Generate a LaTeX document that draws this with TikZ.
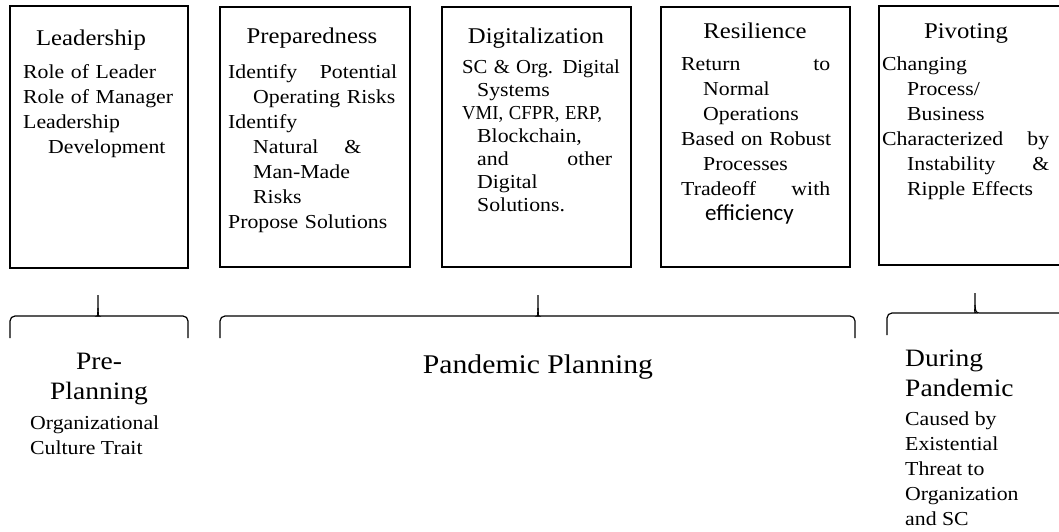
\documentclass[tikz,border=0pt]{standalone}
\usepackage{fontspec}
\setmainfont[FakeStretch=1.1]{Liberation Serif}
\newfontfamily\calfont{Carlito}
\tikzstyle{stage}=[draw=black, shape=rectangle, line width=2.6pt, minimum height=260pt, inner sep=0pt]
\tikzstyle{heading}=[anchor=base, inner sep=0pt, font=\fontsize{22.5}{27}\selectfont]
\tikzstyle{body}=[anchor=north west, inner sep=0pt, align=left, font=\fontsize{19.8}{25}\selectfont]
\tikzstyle{phase}=[inner sep=0pt, font=\fontsize{25}{30}\selectfont]
\tikzstyle{brace}=[line width=1.2pt]

\begin{document}
\begin{tikzpicture}[x=1pt, y=1pt]
            \clip (0,0) rectangle (1059,-531);
            % the five stages
            \node[stage, minimum width=178pt, minimum height=262pt] (lead) at (99,-137) {};
            \node[stage, minimum width=190pt] (prep) at (315,-137) {};
            \node[stage, minimum width=189pt] (digi) at (536.5,-137) {};
            \node[stage, minimum width=189pt] (resi) at (755.5,-137) {};
            \node[stage, minimum width=200pt, minimum height=259pt] (pivo) at (979,-135.5) {};
            \node[heading] (lead-t) at (91,-45) {Leadership};
            \node[heading] (prep-t) at (312,-43) {Preparedness};
            \node[heading] (digi-t) at (536,-43) {Digitalization};
            \node[heading] (resi-t) at (755,-38) {Resilience};
            \node[heading] (pivo-t) at (966,-38) {Pivoting};
            \node[body, text width=165pt] (lead-b) at (23,-64) {Role of Leader\\Role of Manager\\Leadership\\\hspace*{25pt}Development};
            \node[body, text width=169pt] (prep-b) at (228,-64) {Identify\hfill Potential\\\hspace*{25pt}Operating Risks\\Identify\\\hspace*{25pt}\makebox[108pt][l]{Natural\hfill\&}\\\hspace*{25pt}Man-Made\\\hspace*{25pt}Risks\\Propose Solutions};
            \node[body, text width=150pt, font=\fontsize{19.8}{23}\selectfont] (digi-b) at (462,-60) {\scalebox{0.95}[1]{SC \& Org. Digital}\\\hspace*{15pt}Systems\\\scalebox{0.86}[1]{VMI, CFPR, ERP,}\\\hspace*{15pt}Blockchain,\\\hspace*{15pt}and\hfill other\\\hspace*{15pt}Digital\\\hspace*{15pt}Solutions.};
            \node[body, text width=149pt] (resi-b) at (681,-57) {Return\hfill to\\\hspace*{22pt}Normal\\\hspace*{22pt}Operations\\\mbox{Based on Robust}\\\hspace*{22pt}Processes\\Tradeoff\hfill with\\\hspace*{24pt}{\calfont\fontsize{23}{25}\selectfont efficiency}};
            \node[body, text width=167pt] (pivo-b) at (882,-57) {Changing\\\hspace*{25pt}Process/\\\hspace*{25pt}Business\\Characterized\hfill by\\\hspace*{25pt}Instability\hfill\&\\\hspace*{25pt}Ripple Effects};
            % braces under the stages
            \draw[brace] (10,-338) [rounded corners=5pt] |- (94,-316) [sharp corners] .. controls (97,-316) and (98,-313) .. (98,-308) -- (98,-295);
            \draw[brace] (188,-338) [rounded corners=5pt] |- (102,-316) [sharp corners] .. controls (99,-316) and (98,-313) .. (98,-308);
            \draw[brace] (220,-338) [rounded corners=5pt] |- (534,-316) [sharp corners] .. controls (537,-316) and (538,-313) .. (538,-308) -- (538,-295);
            \draw[brace] (855,-338) [rounded corners=5pt] |- (542,-316) [sharp corners] .. controls (539,-316) and (538,-313) .. (538,-308);
            \draw[brace] (887,-335) [rounded corners=5pt] |- (971,-313) [sharp corners] .. controls (974,-313) and (975,-310) .. (975,-305) -- (975,-293);
            \draw[brace] (1070,-313) -- (979,-313) .. controls (976,-313) and (975,-310) .. (975,-305);
            % phases
            \node[phase, anchor=north, align=center] (pre) at (99,-353) {Pre-\\Planning};
            \node[body] (pre-b) at (30,-416) {Organizational\\Culture Trait};
            \node[phase, anchor=base, font=\fontsize{27}{30}\selectfont] (plan) at (538,-373) {Pandemic Planning};
            \node[phase, anchor=north west, align=left] (dur) at (905,-350) {During\\Pandemic};
            \node[body] (dur-b) at (905,-412) {Caused by\\Existential\\Threat to\\Organization\\and SC};
        \end{tikzpicture}
\end{document}
